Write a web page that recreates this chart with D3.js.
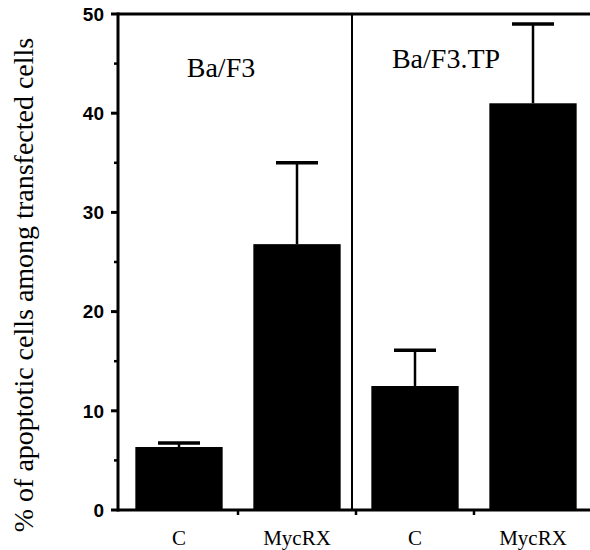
<!DOCTYPE html>
<html>
<head>
<meta charset="utf-8">
<script src="https://cdn.jsdelivr.net/npm/d3@7"></script>
<style>
    body { margin: 0; background: #fff; }
    svg { display: block; }
    .tick-label { font-family: "Liberation Sans", Arial, sans-serif; font-weight: bold; font-size: 19px; }
    .serif { font-family: "Liberation Serif", "Times New Roman", serif; fill: #000; }
</style>
</head>
<body>
<svg id="chart" width="590" height="550"></svg>
<script>
    // values
    var categories = ["Ba/F3 C", "Ba/F3 MycRX", "Ba/F3.TP C", "Ba/F3.TP MycRX"];
    var barLabels = ["C", "MycRX", "C", "MycRX"];
    var means = [6.35, 26.8, 12.5, 41.0];
    var errors = [0.4, 8.2, 3.6, 8.0];
    var groupLabels = ["Ba/F3", "Ba/F3.TP"];
    var yTicks = [0, 10, 20, 30, 40, 50];
    var yMinorTicks = [5, 15, 25, 35, 45];

    (function () {
        var svg = d3.select("#chart");
        var serif = '"Liberation Serif", "Times New Roman", serif';
        var plotLeft = 118, plotRight = 592, plotTop = 14, plotBottom = 510;

        var y = d3.scaleLinear().domain([0, 50]).range([plotBottom, plotTop]);
        var x = d3.scaleBand().domain(categories).range([plotLeft + 2, plotRight])
            .paddingInner(0.26).paddingOuter(0.13);
        var gap = x.step() * x.paddingInner() / 2;

        // bars
        svg.selectAll("rect.bar")
            .data(categories)
            .enter().append("rect")
            .attr("class", "bar")
            .attr("x", function (d) { return x(d); })
            .attr("width", x.bandwidth())
            .attr("y", function (d, i) { return y(means[i]); })
            .attr("height", function (d, i) { return y(0) - y(means[i]); })
            .attr("fill", "#000");

        // error bars (upper only)
        var eb = svg.selectAll("g.err")
            .data(categories)
            .enter().append("g")
            .attr("class", "err");
        eb.append("line")
            .attr("x1", function (d) { return x(d) + x.bandwidth() / 2; })
            .attr("x2", function (d) { return x(d) + x.bandwidth() / 2; })
            .attr("y1", function (d, i) { return y(means[i]); })
            .attr("y2", function (d, i) { return y(means[i] + errors[i]); })
            .attr("stroke", "#000").attr("stroke-width", 2.5);
        eb.append("line")
            .attr("x1", function (d) { return x(d) + x.bandwidth() / 2 - 21; })
            .attr("x2", function (d) { return x(d) + x.bandwidth() / 2 + 21; })
            .attr("y1", function (d, i) { return y(means[i] + errors[i]); })
            .attr("y2", function (d, i) { return y(means[i] + errors[i]); })
            .attr("stroke", "#000").attr("stroke-width", 3.5);

        // frame: left axis, top border, bottom axis, group divider
        var divX = x(categories[2]) - gap - 4;
        svg.append("line").attr("x1", plotLeft).attr("x2", plotLeft)
            .attr("y1", plotTop - 1.5).attr("y2", plotBottom + 1.5)
            .attr("stroke", "#000").attr("stroke-width", 3);
        svg.append("line").attr("x1", plotLeft).attr("x2", 590)
            .attr("y1", plotTop).attr("y2", plotTop)
            .attr("stroke", "#000").attr("stroke-width", 3);
        svg.append("line").attr("x1", plotLeft).attr("x2", 590)
            .attr("y1", plotBottom).attr("y2", plotBottom)
            .attr("stroke", "#000").attr("stroke-width", 3);
        svg.append("line").attr("x1", divX).attr("x2", divX)
            .attr("y1", plotTop).attr("y2", plotBottom)
            .attr("stroke", "#000").attr("stroke-width", 2);

        // y ticks
        svg.selectAll("line.ymaj").data(yTicks).enter().append("line")
            .attr("x1", plotLeft - 7).attr("x2", plotLeft)
            .attr("y1", function (d) { return y(d); }).attr("y2", function (d) { return y(d); })
            .attr("stroke", "#000").attr("stroke-width", 3);
        svg.selectAll("line.ymin").data(yMinorTicks).enter().append("line")
            .attr("x1", plotLeft - 4).attr("x2", plotLeft)
            .attr("y1", function (d) { return y(d); }).attr("y2", function (d) { return y(d); })
            .attr("stroke", "#000").attr("stroke-width", 2.5);
        svg.selectAll("text.ylab").data(yTicks).enter().append("text")
            .attr("class", "tick-label")
            .attr("x", plotLeft - 14)
            .attr("y", function (d) { return y(d); })
            .attr("dy", "0.36em")
            .attr("text-anchor", "end")
            .text(function (d) { return d; });

        // x ticks at band boundaries
        var xTicks = categories.slice(1).map(function (d) { return x(d) - gap; });
        svg.selectAll("line.xt").data(xTicks).enter().append("line")
            .attr("x1", function (d) { return d; }).attr("x2", function (d) { return d; })
            .attr("y1", plotBottom).attr("y2", plotBottom + 5)
            .attr("stroke", "#000").attr("stroke-width", 2.5);

        // x labels
        svg.selectAll("text.xlab").data(categories).enter().append("text")
            .attr("class", "serif")
            .attr("x", function (d) { return x(d) + x.bandwidth() / 2; })
            .attr("y", 545)
            .attr("text-anchor", "middle")
            .style("font-family", serif)
            .style("font-size", "21px")
            .text(function (d, i) { return barLabels[i]; });

        // group labels
        svg.append("text").attr("class", "serif")
            .attr("x", (x(categories[0]) + x(categories[1]) + x.bandwidth()) / 2 - 17)
            .attr("y", 77).attr("text-anchor", "middle")
            .style("font-family", serif)
            .style("font-size", "28px").text(groupLabels[0]);
        svg.append("text").attr("class", "serif")
            .attr("x", (x(categories[2]) + x(categories[3]) + x.bandwidth()) / 2 - 28)
            .attr("y", 68).attr("text-anchor", "middle")
            .style("font-family", serif)
            .style("font-size", "28px").text(groupLabels[1]);

        // y axis title
        svg.append("text").attr("class", "serif")
            .attr("transform", "translate(33,285) rotate(-90)")
            .attr("text-anchor", "middle")
            .style("font-family", serif)
            .style("font-size", "28px")
            .text("% of apoptotic cells among transfected cells");
    })();
</script>
</body>
</html>
